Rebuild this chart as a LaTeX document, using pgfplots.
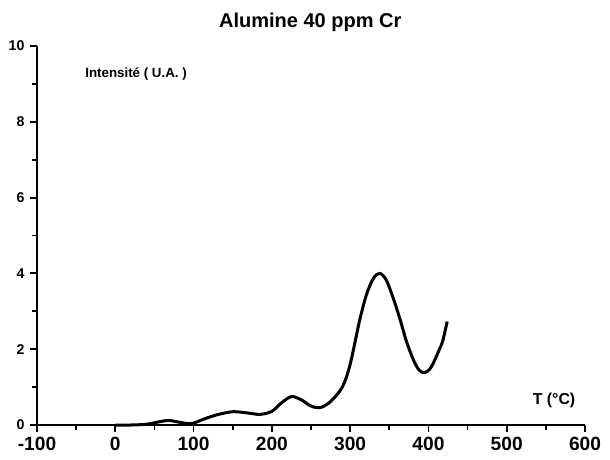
\documentclass[border=0pt]{standalone}
\usepackage{fontspec}
\setmainfont{Liberation Sans}
\usepackage{pgfplots}
\pgfplotsset{compat=1.18}

\begin{document}
\begin{tikzpicture}
\useasboundingbox (-22.2pt,-20.4pt) rectangle (343.8pt,255pt);
\begin{axis}[
    at={(0pt,0pt)}, anchor=south west,
    scale only axis, width=328.8pt, height=227.4pt,
    xmin=-100, xmax=600, ymin=0, ymax=10,
    axis lines*=left,
    axis line style={line width=1.6pt},
    xtick={-100,0,...,600},
    ytick={0,2,...,10},
    minor x tick num=1,
    minor y tick num=1,
    tick align=outside,
    major tick length=4pt,
    minor tick length=3pt,
    every tick/.style={black, line width=1.1pt},
    /pgf/number format/assume math mode=true,
    xticklabel style={font=\bfseries\fontsize{11.5}{12}\selectfont},
    yticklabel style={font=\bfseries\fontsize{8.5}{10}\selectfont},
    clip=false,
]
\addplot[black, line width=1.8pt, smooth, tension=0.5] coordinates {
(0,0) (20,0) (40,0.02) (55,0.08) (68,0.12) (80,0.08) (92,0.04) (100,0.05)
(115,0.17) (130,0.27) (150,0.35) (168,0.32) (185,0.28) (200,0.36)
(212,0.58) (225,0.75) (238,0.66) (250,0.5) (262,0.46) (275,0.62)
(290,1.0) (300,1.6) (312,2.75) (321,3.45) (330,3.88) (338,4.0)
(346,3.83) (355,3.35) (364,2.77) (372,2.2) (381,1.71) (388,1.45)
(395,1.38) (402,1.48) (408,1.71) (413,1.95) (418,2.2) (424,2.73)
};
\node[anchor=base, font=\bfseries\fontsize{12}{14}\selectfont]
  at (axis cs:249,10) [yshift=10.8pt] {Alumine 40 ppm Cr};
\node[anchor=base west, inner sep=0pt, font=\bfseries\fontsize{8}{10}\selectfont]
  at (axis cs:-38.7,9.16) {Intensité ( U.A. )};
\node[anchor=base west, inner sep=0pt, font=\bfseries\fontsize{9.5}{11}\selectfont]
  at (axis cs:533,0.55) {T (°C)};
\end{axis}
\end{tikzpicture}
\end{document}
